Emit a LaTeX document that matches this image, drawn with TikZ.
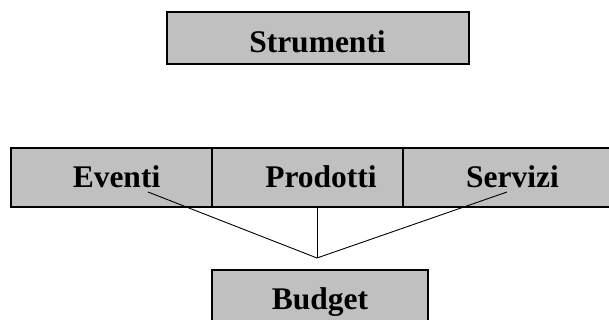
\documentclass[tikz,border=0pt]{standalone}
\usepackage{fontspec}
\setmainfont{Liberation Serif}
\definecolor{silver}{RGB}{192,192,192}
\begin{document}
\begin{tikzpicture}[x=1pt,y=-1pt,
  cell/.style={draw=black,line width=1.1pt,fill=silver},
  lbl/.style={font=\fontsize{31.5}{36}\selectfont\bfseries,inner sep=0pt,anchor=base},
  link/.style={line width=0.9pt}]
 \useasboundingbox (0,0) rectangle (609,320);
 \clip (0,0) rectangle (609,320);
 \fill[white] (0,0) rectangle (609,320);
 % boxes
 \draw[cell] (167,12) rectangle (469,64);
 \draw[cell] (11,148) rectangle (212,207);
 \draw[cell] (212,148) rectangle (403,207);
 \draw[cell] (403,148) rectangle (616,207);
 \draw[cell] (212,270) rectangle (428,332);
 % texts
 \node[lbl] (strumenti) at (317.5,53) {Strumenti};
 \node[lbl] (eventi) at (116.5,188) {Eventi};
 \node[lbl] (prodotti) at (321,188) {Prodotti};
 \node[lbl] (servizi) at (512.5,188) {Servizi};
 \node[lbl] (budget) at (320,309) {Budget};
 % connectors
 \coordinate (evfoot) at (148,192);
 \coordinate (sefoot) at (507,192);
 \coordinate (prfoot) at (317,207);
 \coordinate (apex) at (317,258);
 \draw[link] (evfoot) -- (apex) -- (sefoot);
 \draw[link] (prfoot) -- (apex);
\end{tikzpicture}
\end{document}
